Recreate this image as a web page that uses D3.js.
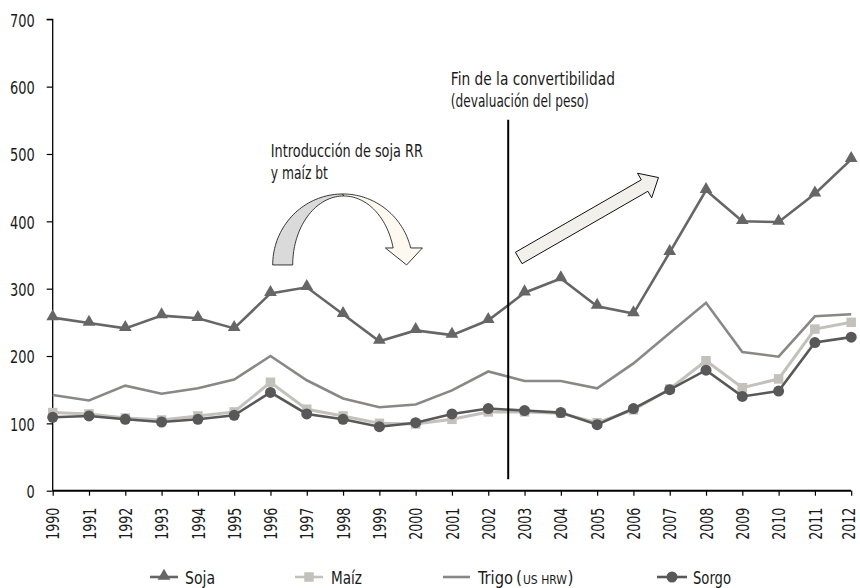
<!DOCTYPE html>
<html>
<head>
<meta charset="utf-8">
<script src="https://cdn.jsdelivr.net/npm/d3@7/dist/d3.min.js"></script>
<style>
  html, body { margin: 0; padding: 0; background: #ffffff; }
  svg { display: block; }
  text { font-family: "DejaVu Sans Condensed", "Liberation Sans Narrow", sans-serif; fill: #1a1a1a; }
</style>
</head>
<body>
<svg id="chart" width="860" height="588"></svg>
<script>
// ---------------- DATA ----------------
const years = [1990,1991,1992,1993,1994,1995,1996,1997,1998,1999,2000,2001,2002,2003,2004,2005,2006,2007,2008,2009,2010,2011,2012];
const soja  = [257,249,241,260,256,241,293,302,262,222,238,231,253,294,315,274,263,354,446,400,399,441,492];
const maiz  = [116,114,108,105,111,117,161,121,111,100,99,106,117,117,115,101,120,151,193,153,166,240,250];
const trigo = [142,134,156,144,152,165,200,164,137,124,128,149,177,163,163,152,189,234,279,206,199,259,262];
const sorgo = [109,111,106,102,106,112,146,114,106,95,101,114,122,119,116,98,122,150,179,140,148,220,228];
const yTicks = [0,100,200,300,400,500,600,700];
const seriesNames = ["Soja","Maíz","Trigo","Sorgo"];
const trigoSub = ["(", "US HRW", ")"];
const annotationTexts = [["Fin de la convertibilidad","(devaluación del peso)"],["Introducción de soja RR","y maíz bt"]];

// ---------------- LAYOUT ----------------
const svg = d3.select("#chart");
const x = d3.scaleLinear().domain([1990, 2012]).range([52.7, 851.2]);
const y = d3.scaleLinear().domain([0, 700]).range([490.7, 19.3]);

const colors = { soja: "#666666", maiz: "#c2c1bb", trigo: "#8a8886", sorgo: "#585858" };
const fontSize = 18;
const FONT = '"DejaVu Sans Condensed", "Liberation Sans Narrow", sans-serif';

function squeeze(sel, factor, width) {
  sel.each(function () {
    const w = width != null ? width : this.getComputedTextLength() * factor;
    d3.select(this).attr("textLength", w).attr("lengthAdjust", "spacingAndGlyphs");
  });
}

// Y axis
const yAxis = svg.append("g").attr("transform", `translate(${x(1990)},0)`)
  .call(d3.axisLeft(y).tickValues(yTicks).tickSize(6).tickPadding(12).tickFormat(d3.format("d")));
yAxis.select(".domain").attr("stroke", "#000").attr("stroke-width", 1.3).attr("d", `M-6,${y(700)}H0V${y(0)}`);
yAxis.selectAll(".tick line").attr("stroke", "#000").attr("stroke-width", 1.2);
yAxis.selectAll(".tick text").style("font-size", fontSize + "px").attr("fill", "#1a1a1a")
  .style("font-family", FONT).attr("dy", "0.38em");
squeeze(yAxis.selectAll(".tick text"), 0.8);

// X axis
const xAxis = svg.append("g").attr("transform", `translate(0,${y(0)})`)
  .call(d3.axisBottom(x).tickValues(years).tickSize(5).tickFormat(d3.format("d")));
xAxis.select(".domain").attr("stroke", "#000").attr("stroke-width", 2).attr("d", `M${x(1990)},0H${x(2012)}`);
xAxis.selectAll(".tick line").attr("stroke", "#000").attr("stroke-width", 1.2);
xAxis.selectAll(".tick text")
  .style("font-size", fontSize + "px").attr("fill", "#1a1a1a")
  .style("font-family", FONT)
  .attr("text-anchor", "end")
  .attr("transform", "rotate(-90)")
  .attr("x", -17).attr("y", d => d === 2012 ? -2.5 : 0).attr("dy", "0.34em");
squeeze(xAxis.selectAll(".tick text"), 0.78);

// ---------------- SERIES ----------------
const line = d3.line().x((d, i) => x(years[i])).y(d => y(d));
const triangle = d3.symbol().type(d3.symbolTriangle).size(70);
const square = d3.symbol().type(d3.symbolSquare).size(90);

svg.append("path").datum(maiz).attr("d", line).attr("fill", "none")
  .attr("stroke", colors.maiz).attr("stroke-width", 3);
svg.append("g").selectAll("path").data(maiz).join("path")
  .attr("d", square).attr("fill", colors.maiz)
  .attr("transform", (d, i) => `translate(${x(years[i])},${y(d)})`);

svg.append("path").datum(trigo).attr("d", line).attr("fill", "none")
  .attr("stroke", colors.trigo).attr("stroke-width", 2.6);

svg.append("path").datum(sorgo).attr("d", line).attr("fill", "none")
  .attr("stroke", colors.sorgo).attr("stroke-width", 2.6);
svg.append("g").selectAll("circle").data(sorgo).join("circle")
  .attr("cx", (d, i) => x(years[i])).attr("cy", d => y(d)).attr("r", 5.5)
  .attr("fill", colors.sorgo);

svg.append("path").datum(soja).attr("d", line).attr("fill", "none")
  .attr("stroke", colors.soja).attr("stroke-width", 2.6);
svg.append("g").selectAll("path").data(soja).join("path")
  .attr("d", triangle).attr("fill", colors.soja)
  .attr("transform", (d, i) => `translate(${x(years[i])},${y(d) - 1})`);

// ---------------- ANNOTATIONS ----------------
const vLine = { year: 2002.55, from: 17, to: 551 };
svg.append("line")
  .attr("x1", x(vLine.year)).attr("x2", x(vLine.year))
  .attr("y1", y(vLine.from)).attr("y2", y(vLine.to))
  .attr("stroke", "#000").attr("stroke-width", 2);

const textAnchors = [
  { year: 2000.97, values: [602.5, 570.5], widths: [164, 138] },
  { year: 1996.01, values: [496, 463], widths: [152, 57] }
];
textAnchors.forEach((a, k) => {
  annotationTexts[k].forEach((t, j) => {
    const el = svg.append("text").attr("x", x(a.year)).attr("y", y(a.values[j]))
      .style("font-size", "17px").text(t);
    squeeze(el, 1, a.widths[j]);
  });
});

// straight arrow
const sArrow = { tail: [2002.84, 345.6], tip: [2006.69, 465], halfW: 6.6, headHalfW: 14.2, headLen: 16 };
(function () {
  const tx = x(sArrow.tail[0]), ty = y(sArrow.tail[1]);
  const hx = x(sArrow.tip[0]), hy = y(sArrow.tip[1]);
  const dx = hx - tx, dy = hy - ty, L = Math.hypot(dx, dy);
  const ux = dx / L, uy = dy / L, px = -uy, py = ux;
  const bx = hx - ux * sArrow.headLen, by = hy - uy * sArrow.headLen;
  const w = sArrow.halfW, hw = sArrow.headHalfW;
  const pts = [
    [tx + px * w, ty + py * w],
    [bx + px * w, by + py * w],
    [bx + px * hw, by + py * hw],
    [hx, hy],
    [bx - px * hw, by - py * hw],
    [bx - px * w, by - py * w],
    [tx - px * w, ty - py * w]
  ];
  svg.append("path").attr("d", "M" + pts.map(p => p.join(",")).join("L") + "Z")
    .attr("fill", "#f2f0eb").attr("stroke", "#111").attr("stroke-width", 1);
})();

// curved arrow
const cArrow = { center: [1997.99, 335.2], outer: [70, 71], inner: [51, 69], innerShift: 1, endRise: 17 };
(function () {
  const cx = x(cArrow.center[0]), cy = y(cArrow.center[1]);
  const [orx, ory] = cArrow.outer, [irx, iry] = cArrow.inner;
  const icx = cx + cArrow.innerShift;
  const thO = Math.asin(cArrow.endRise / ory), thI = Math.asin(cArrow.endRise / iry);
  const ell = (ccx, rx, ry, a0, a1, n) => d3.range(n + 1).map(k => {
    const a = a0 + (a1 - a0) * k / n;
    return [ccx + rx * Math.cos(a), cy - ry * Math.sin(a)];
  });
  const leftPts = ell(cx, orx, ory, Math.PI, Math.PI / 2, 40).concat(ell(icx, irx, iry, Math.PI / 2, Math.PI, 40));
  svg.append("path").attr("d", "M" + leftPts.map(p => p.join(",")).join("L") + "Z")
    .attr("fill", "#dadada").attr("stroke", "#222").attr("stroke-width", 0.9);
  const outerR = ell(cx, orx, ory, Math.PI / 2, thO, 40);
  const innerR = ell(icx, irx, iry, thI, Math.PI / 2, 40);
  const oEnd = outerR[outerR.length - 1], iEnd = innerR[0];
  const mid = (oEnd[0] + iEnd[0]) / 2;
  const head = [[mid + 20.5, oEnd[1]], [mid + 4.7, cy], [mid - 16.5, oEnd[1]]];
  const rightPts = outerR.concat(head).concat(innerR);
  svg.append("path").attr("d", "M" + rightPts.map(p => p.join(",")).join("L") + "Z")
    .attr("fill", "#fdf9f1").attr("stroke", "#222").attr("stroke-width", 0.9);
})();

// ---------------- LEGEND ----------------
const legendItems = [
  { name: seriesNames[0], key: "soja", x0: 150, x1: 178, tx: 185, w: 30, marker: "tri" },
  { name: seriesNames[1], key: "maiz", x0: 295, x1: 323, tx: 331, w: 31, marker: "sq" },
  { name: seriesNames[2], key: "trigo", x0: 443, x1: 470, tx: 478, w: 35, marker: null, sub: true },
  { name: seriesNames[3], key: "sorgo", x0: 657, x1: 687, tx: 693, w: 38, marker: "circ" }
];
const ly = 577;
const lg = svg.append("g");
legendItems.forEach(it => {
  lg.append("line").attr("x1", it.x0).attr("x2", it.x1).attr("y1", ly).attr("y2", ly)
    .attr("stroke", colors[it.key]).attr("stroke-width", 2.6);
  const mx = (it.x0 + it.x1) / 2;
  if (it.marker === "tri") lg.append("path").attr("d", triangle).attr("fill", colors[it.key]).attr("transform", `translate(${mx},${ly - 1})`);
  if (it.marker === "sq") lg.append("path").attr("d", square).attr("fill", colors[it.key]).attr("transform", `translate(${mx},${ly})`);
  if (it.marker === "circ") lg.append("circle").attr("cx", mx).attr("cy", ly).attr("r", 5.5).attr("fill", colors[it.key]);
  const t = lg.append("text").attr("x", it.tx).attr("y", ly + 7).style("font-size", fontSize + "px").text(it.name);
  squeeze(t, 1, it.w);
  if (it.sub) {
    const st = lg.append("text").attr("x", 516).attr("y", ly + 7).style("font-size", "17px");
    st.append("tspan").text(trigoSub[0]);
    st.append("tspan").style("font-size", "12px").attr("dx", 1).text(trigoSub[1]);
    st.append("tspan").attr("dx", 0.5).text(trigoSub[2]);
  }
});
</script>
</body>
</html>
